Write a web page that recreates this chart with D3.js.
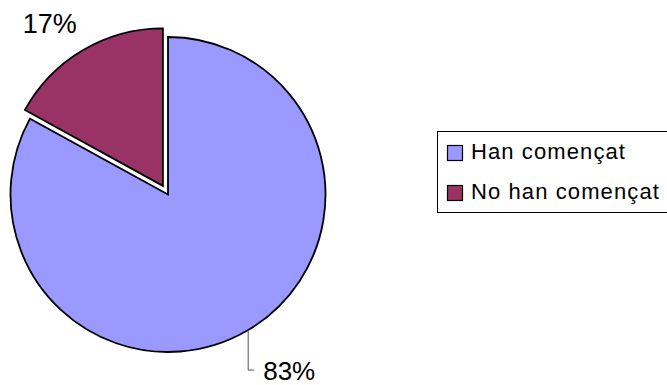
<!DOCTYPE html>
<html>
<head>
<meta charset="utf-8">
<script src="https://cdn.jsdelivr.net/npm/d3@7"></script>
<style>
  html, body { margin: 0; padding: 0; background: #fff; }
  svg { display: block; font-family: Arial, "Liberation Sans", sans-serif; }
</style>
</head>
<body>
<svg id="chart" width="667" height="385"></svg>
<script>
// Pie data: share of respondents
const categories = ["Han començat", "No han començat"];
const values = [83, 17];
const colors = ["#9999FF", "#993366"];
const pctLabels = ["83%", "17%"];

const svg = d3.select("#chart");
const cx = 168, cy = 194.5, r = 157.5;
const explode = 10;

const pie = d3.pie().sort(null).value(d => d)(values);
const arc = d3.arc().innerRadius(0).outerRadius(r);

const g = svg.append("g").attr("transform", `translate(${cx},${cy})`);

// offset along bisector for the exploded slice
function offset(d, i) {
  if (i !== 1) return [0, 0];
  const a = (d.startAngle + d.endAngle) / 2;
  return [Math.sin(a) * explode, -Math.cos(a) * explode];
}

g.selectAll("path.slice")
  .data(pie)
  .join("path")
  .attr("class", "slice")
  .attr("transform", (d, i) => { const o = offset(d, i); return `translate(${o[0]},${o[1]})`; })
  .attr("d", arc)
  .attr("fill", (d, i) => colors[i])
  .attr("stroke", "#000")
  .attr("stroke-width", 1.8)
  .attr("stroke-linejoin", "miter");

// outer point of each slice bisector
function outerPoint(d, i) {
  const a = (d.startAngle + d.endAngle) / 2;
  const o = offset(d, i);
  return [o[0] + Math.sin(a) * r, o[1] - Math.cos(a) * r];
}

// 83% label with leader line
const p0 = outerPoint(pie[0], 0);
g.append("path")
  .attr("d", `M${p0[0]},${p0[1]} V${p0[1] + 40} H${p0[0] + 6}`)
  .attr("fill", "none")
  .attr("stroke", "#555")
  .attr("stroke-width", 1);
g.append("text")
  .attr("x", p0[0] + 15)
  .attr("y", p0[1] + 49.5)
  .attr("font-size", 26)
  .attr("fill", "#000")
  .text(pctLabels[0]);

// 17% label
const p1 = outerPoint(pie[1], 1);
g.append("text")
  .attr("x", p1[0] - 6)
  .attr("y", p1[1] - 17)
  .attr("text-anchor", "end")
  .attr("font-size", 27)
  .attr("fill", "#000")
  .text(pctLabels[1]);

// Legend
const legend = svg.append("g");
legend.append("rect")
  .attr("x", 437.5).attr("y", 131.5)
  .attr("width", 240).attr("height", 81)
  .attr("fill", "#fff").attr("stroke", "#000").attr("stroke-width", 1);

const item = legend.selectAll("g.item")
  .data(categories)
  .join("g")
  .attr("class", "item")
  .attr("transform", (d, i) => `translate(447,${145 + i * 40})`);
item.append("rect")
  .attr("x", 0.5).attr("y", 0.5)
  .attr("width", 15).attr("height", 15)
  .attr("fill", (d, i) => colors[i])
  .attr("stroke", "#000").attr("stroke-width", 1.2);
item.append("text")
  .attr("x", 24).attr("y", 14)
  .attr("font-size", 22)
  .attr("letter-spacing", 1.1)
  .attr("fill", "#000")
  .text(d => d);
</script>
</body>
</html>
